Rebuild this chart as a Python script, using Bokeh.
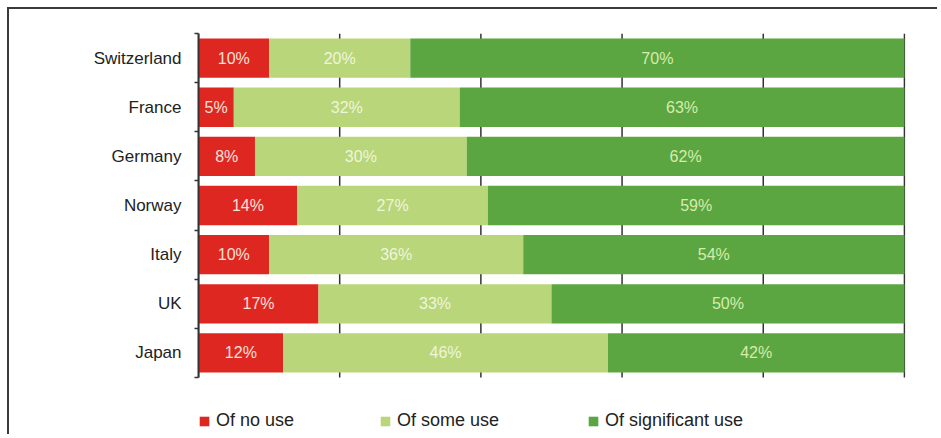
from bokeh.plotting import figure
from bokeh.models import (ColumnDataSource, Range1d, FixedTicker, Legend, LegendItem)
from bokeh.core.properties import value
from bokeh.embed import file_html
from bokeh.resources import INLINE

countries = ["Switzerland", "France", "Germany", "Norway", "Italy", "UK", "Japan"]
no_use = [10, 5, 8, 14, 10, 17, 12]
some_use = [20, 32, 30, 27, 36, 33, 46]
significant_use = [70, 63, 62, 59, 54, 50, 42]
series_names = ["Of no use", "Of some use", "Of significant use"]
x_ticks = [0, 20, 40, 60, 80, 100]

colors = ["#df2722", "#b9d67a", "#5ba641"]
label_colors = ["#f7e2da", "#eef5dc", "#d6ecab"]
FONT = "Liberation Sans"

n = len(countries)
pos = [i + 0.5 for i in range(n)]
src = ColumnDataSource(dict(y=pos, no=no_use, some=some_use, sig=significant_use))

# extra room below the bars (inside the frame) holds the legend
p = figure(width=930, height=427, output_backend="svg", toolbar_location=None,
           x_range=Range1d(0, 100.15), y_range=Range1d(n + 1.2, 0),
           min_border_left=189, min_border_right=34, min_border_top=24,
           min_border_bottom=0)
p.styles = {"margin-left": "7px", "margin-top": "7px",
            "border-top": "2px solid #3a3a3a", "border-left": "2px solid #3a3a3a"}
p.outline_line_color = None
p.background_fill_color = "white"
p.xaxis.visible = False
p.xgrid.visible = False
p.ygrid.visible = False

# vertical grid lines spanning the category bands only
p.segment(x0=x_ticks, x1=x_ticks, y0=[0] * len(x_ticks), y1=[n] * len(x_ticks),
          line_color="#333333", line_width=1.5, level="underlay")

rs = p.hbar_stack(["no", "some", "sig"], y="y", height=0.8, color=colors,
                  source=src, line_color=None)

# value labels
for fields, vals, col in [((), no_use, label_colors[0]),
                          ((no_use,), some_use, label_colors[1]),
                          ((no_use, some_use), significant_use, label_colors[2])]:
    left = [sum(f[i] for f in fields) for i in range(n)]
    xs = [l + v / 2 for l, v in zip(left, vals)]
    p.text(x=xs, y=pos, text=[f"{v}%" for v in vals], text_color=col,
           text_align="center", text_baseline="middle", text_font_size="16px",
           text_font=value(FONT))

# y axis: labels at centers, ticks at band boundaries
ya = p.yaxis[0]
ya.bounds = (0, n)
ya.ticker = FixedTicker(ticks=pos, minor_ticks=[float(i) for i in range(n + 1)])
ya.major_label_overrides = {pv: c for pv, c in zip(pos, countries)}
ya.major_tick_line_color = None
ya.major_tick_in = 0
ya.major_tick_out = 0
ya.minor_tick_in = 0
ya.minor_tick_out = 4
ya.minor_tick_line_color = "#333333"
ya.minor_tick_line_width = 1.5
ya.axis_line_color = "#333333"
ya.axis_line_width = 2
ya.major_label_text_font = FONT
ya.major_label_text_font_size = "17px"
ya.major_label_text_color = "#222222"
ya.major_label_standoff = 13

# legends
locs = [(0, 5), (181, 5), (389, 5)]
for r, name, loc in zip(rs, series_names, locs):
    lg = Legend(items=[LegendItem(label=name, renderers=[r])], location=loc,
                border_line_color=None, background_fill_alpha=0,
                label_text_font=FONT, label_text_font_size="18px",
                label_text_color="#222222", glyph_width=12, glyph_height=12,
                label_height=18, label_standoff=6, padding=0, margin=0)
    p.add_layout(lg, "center")

open("out.html", "w").write(file_html(p, INLINE))
